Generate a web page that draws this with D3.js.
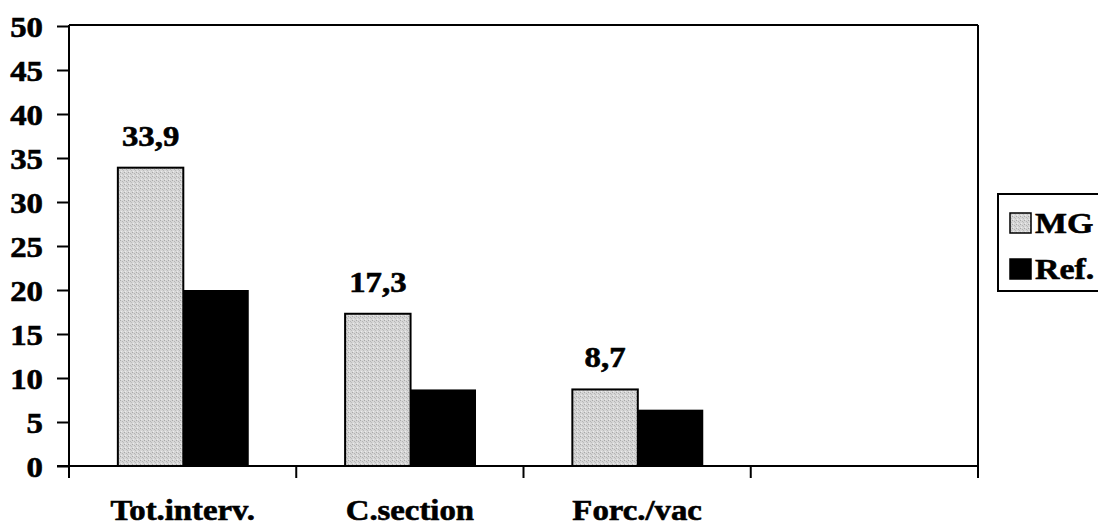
<!DOCTYPE html>
<html>
<head>
<meta charset="utf-8">
<script src="https://cdn.jsdelivr.net/npm/d3@7"></script>
<style>
  html, body { margin: 0; padding: 0; background: #fff; }
  svg { display: block; }
  text { font-family: "Liberation Serif", "Times New Roman", serif; font-weight: bold; fill: #000; stroke: #000; stroke-width: 0.6px; }
</style>
</head>
<body>
<svg id="chart" width="1098" height="528"></svg>
<script>
const categories = ["Tot.interv.", "C.section", "Forc./vac", ""];
const seriesNames = ["MG", "Ref."];
const mgValues = [33.9, 17.3, 8.7, null];
const refValues = [20.0, 8.7, 6.4, null];
const mgLabels = ["33,9", "17,3", "8,7", ""];
const yTicks = [0, 5, 10, 15, 20, 25, 30, 35, 40, 45, 50];

(function () {
const FS = 29, SX = 1.13, FF = "Liberation Serif";
const svg = d3.select("#chart");
const pLeft = 69, pRight = 978, pTop = 26, pBottom = 466;

const defs = svg.append("defs");
const pat = defs.append("pattern").attr("id", "stipple")
  .attr("width", 4).attr("height", 4).attr("patternUnits", "userSpaceOnUse");
pat.append("rect").attr("width", 4).attr("height", 4).attr("fill", "#d6d6d6");
pat.append("rect").attr("x", 0).attr("y", 0).attr("width", 1).attr("height", 1).attr("fill", "#a8a8a8");
pat.append("rect").attr("x", 2).attr("y", 1).attr("width", 1).attr("height", 1).attr("fill", "#b4b4b4");
pat.append("rect").attr("x", 1).attr("y", 3).attr("width", 1).attr("height", 1).attr("fill", "#ececec");
pat.append("rect").attr("x", 3).attr("y", 2).attr("width", 1).attr("height", 1).attr("fill", "#bcbcbc");

const x = d3.scaleBand().domain(d3.range(categories.length)).range([pLeft, pRight]).padding(0);
const y = d3.scaleLinear().domain([0, 50]).range([pBottom, pTop]);
const bw = x.bandwidth();
const barW = bw * 0.288;
const off = bw * 0.215;

// plot frame (top and right)
svg.append("line").attr("x1", pLeft).attr("x2", pRight).attr("y1", y(50) - 1).attr("y2", y(50) - 1)
  .attr("stroke", "#000").attr("stroke-width", 2);
svg.append("line").attr("x1", pRight).attr("x2", pRight).attr("y1", y(50) - 1).attr("y2", pBottom + 12)
  .attr("stroke", "#000").attr("stroke-width", 2);

// bars
const idx = d3.range(categories.length).filter(i => mgValues[i] != null);
svg.append("g").selectAll("rect").data(idx).join("rect")
  .attr("x", i => x(i) + off)
  .attr("y", i => y(mgValues[i]))
  .attr("width", barW)
  .attr("height", i => y(0) - y(mgValues[i]))
  .attr("fill", "url(#stipple)")
  .attr("stroke", "#000").attr("stroke-width", 2);
svg.append("g").selectAll("rect").data(idx).join("rect")
  .attr("x", i => x(i) + off + barW)
  .attr("y", i => y(refValues[i]))
  .attr("width", barW)
  .attr("height", i => y(0) - y(refValues[i]))
  .attr("fill", "#000");

// value labels
svg.append("g").selectAll("text").data(idx).join("text")
  .attr("transform", i => `translate(${x(i) + off + barW / 2},${y(mgValues[i]) - 22}) scale(${SX},1)`)
  .attr("text-anchor", "middle")
  .attr("font-family", FF).attr("font-size", FS)
  .text(i => mgLabels[i]);

// y axis
const yAxis = svg.append("g").attr("transform", `translate(${pLeft},0)`)
  .call(d3.axisLeft(y).tickValues(yTicks).tickSize(12).tickSizeOuter(0).tickFormat(d3.format("d")));
yAxis.attr("font-family", FF).attr("font-size", FS);
yAxis.select(".domain").attr("stroke-width", 2).attr("d", `M0,${y(50) - 1}V${pBottom + 12}`);
yAxis.selectAll(".tick line").attr("stroke-width", 2);
yAxis.selectAll(".tick text")
  .attr("x", 0).attr("dy", "0.35em")
  .attr("transform", `translate(-26,0) scale(${SX},1)`)
  .attr("text-anchor", "end")
  .attr("fill", "#000");

// x axis
const xAxis = svg.append("g").attr("transform", `translate(0,${pBottom})`)
  .call(d3.axisBottom(x).tickSize(0).tickSizeOuter(0).tickFormat(""));
xAxis.select(".domain").attr("stroke-width", 2).attr("d", `M${pLeft - 12},0H${pRight}`);
xAxis.selectAll(".tick").remove();
const boundaries = d3.range(categories.length + 1).map(i => pLeft + i * bw);
xAxis.selectAll("line.xt").data(boundaries).join("line").attr("class", "xt")
  .attr("x1", d => d).attr("x2", d => d).attr("y1", 0).attr("y2", 12)
  .attr("stroke", "#000").attr("stroke-width", 2);

svg.append("g").selectAll("text").data(d3.range(categories.length).filter(i => categories[i])).join("text")
  .attr("transform", i => `translate(${x(i) + bw / 2},520) scale(${SX},1)`)
  .attr("text-anchor", "middle")
  .attr("font-family", FF).attr("font-size", FS)
  .text(i => categories[i]);

// legend
const lg = svg.append("g");
lg.append("rect").attr("x", 998).attr("y", 194).attr("width", 120).attr("height", 97)
  .attr("fill", "#fff").attr("stroke", "#000").attr("stroke-width", 2);
const legendFills = ["url(#stipple)", "#000"];
const legendY = [213, 259];
seriesNames.forEach((s, i) => {
  lg.append("rect").attr("x", 1010).attr("y", legendY[i]).attr("width", 21).attr("height", 20)
    .attr("fill", legendFills[i]).attr("stroke", "#000").attr("stroke-width", 1.5);
  lg.append("text")
    .attr("transform", `translate(1035,${legendY[i] + 20}) scale(${SX},1)`)
    .attr("font-family", FF).attr("font-size", FS + 1)
    .text(s);
});
})();
</script>
</body>
</html>
